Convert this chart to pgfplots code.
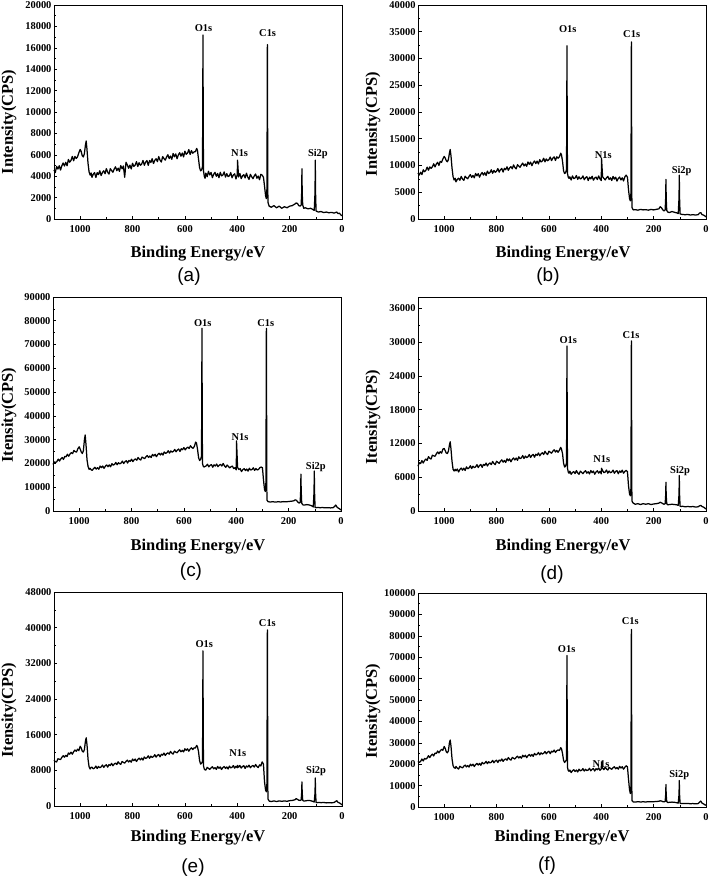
\documentclass[border=0pt]{standalone}
\usepackage{pgfplots}
\usepackage{pgfplotstable}
\pgfplotsset{compat=1.18}
\usepackage{fontspec}
\setmainfont{Liberation Serif}
\newfontfamily\arial{Liberation Sans}

\pgfplotstableread{
x a b c d e f
1100 4590 8615 19580 7950 10275 21300
1095 4335 8210 20650 8565 9975 20800
1090 4920 8750 20320 8445 9862 21350
1085 4665 8300 20830 8955 10612 22425
1080 4980 9200 21830 8520 10500 21550
1075 4575 8840 21010 8960 10425 22700
1070 4980 9110 21940 9225 10912 22350
1065 5235 9695 22520 9000 11288 22900
1060 4950 9110 21700 9650 10950 23975
1055 5295 9740 22980 9355 11362 23100
1050 4980 9470 22790 9235 11100 24100
1045 5565 9740 23860 9920 11888 24725
1040 5310 10325 23040 9800 11625 23850
1035 5475 9740 23970 9715 12075 25225
1030 5850 10280 24550 10155 11625 25025
1025 5445 10595 24150 10490 12188 26175
1020 5850 10010 25500 10160 12562 25300
1015 5655 10775 24960 10530 12262 26300
1010 5820 10595 24770 10270 12750 26925
1005 6195 11225 26190 10990 12412 26500
1000 6500 11700 27000 11100 13400 28300
996 6300 11400 26000 10700 13000 27400
992 5900 10900 24800 10300 12300 25800
988 5800 10700 24200 10200 12100 25300
984 6100 11100 25300 10600 12600 26200
980 6900 12300 30000 11700 14500 30000
977 7300 13000 32000 12300 15300 31300
974 6500 11800 28000 11000 13800 28500
970 5200 9500 21500 8800 10500 22500
966 4400 7900 18700 7400 8800 19300
962 4100 7300 17500 7100 8300 18400
958 4300 7600 17900 7400 8700 18100
955 3890 6940 17400 7130 8700 18950
950 4190 7400 17100 7455 8346 18154
945 4336 7633 17856 6940 8515 17733
940 3885 7236 18399 7370 8948 19037
935 4333 7965 17612 7625 8406 18616
930 4151 7479 18225 7250 8877 18270
925 4509 7218 17578 7609 8596 19049
920 4057 7992 18891 7199 8766 19603
915 4356 7730 18244 7839 9200 18732
910 4504 7514 18927 7499 8657 19361
905 4232 7973 17930 7649 9052 18640
900 4710 8297 18823 8044 9260 20019
895 4378 7766 19366 7529 8717 19298
890 4197 8134 18649 7959 9300 20002
885 4705 7693 19402 7689 9096 18906
880 4523 8512 18615 7839 9566 19835
875 4371 8071 19928 8233 9023 20389
870 4669 8485 19281 7718 9419 19593
865 4878 7818 19614 8078 9627 20372
860 4516 8367 20437 8263 9308 19501
855 4754 8691 19440 7748 9929 20880
850 4452 8205 20333 8283 9537 20159
845 4990 8664 19826 8083 9331 20488
840 4689 8132 20159 8513 9989 21342
835 4957 8951 20982 7998 9785 20246
830 3900 8510 19985 8358 9618 21175
825 5300 8699 20738 8542 10012 20604
820 5071 9203 21141 8237 10296 20933
815 4740 8536 20144 8807 9866 21787
810 5038 9085 21247 8432 10185 20691
805 4676 8734 20880 8232 9831 21470
800 5214 8923 21773 8837 10527 21874
795 4912 9427 20776 8637 10171 20778
790 5031 8760 21529 8472 10529 21932
785 5359 9219 21932 8832 9987 21511
780 4907 9453 21355 9087 10458 22440
775 5265 8787 22528 8676 10739 21344
770 5023 9471 21811 8966 10347 22123
765 5142 9209 21444 8626 10743 22527
760 5470 9758 22687 9266 10312 21881
755 5018 9092 22320 8926 11008 23110
750 5316 9551 22023 9251 10654 22314
745 5464 9785 22776 8736 10823 21893
740 5013 9388 23319 9166 11256 23197
735 5461 10117 22532 9421 10714 22776
730 5279 9631 23145 9046 11185 22430
725 5637 9370 22498 9405 10904 23209
720 5185 10144 23811 8995 11074 23763
715 5484 9882 23164 9635 11508 22892
710 5632 9666 23847 9295 10965 23521
705 5360 10125 22850 9445 11360 22800
700 5838 10449 23743 9840 11568 24179
695 5506 9918 24286 9325 11025 23458
690 5325 10286 23569 9755 11608 24162
685 5833 9845 24322 9485 11404 23066
680 5651 10664 23535 9635 11874 23995
675 5499 10223 24848 10029 11331 24549
670 5797 10637 24201 9514 11727 23753
665 6006 9970 24534 9874 11935 24532
660 5644 10519 25357 10059 11616 23661
655 5882 10843 24360 9544 12237 25040
650 5580 10357 25253 10079 11845 24319
645 6118 10816 24746 9879 11639 24648
640 5817 10284 25079 10309 12297 25502
635 6085 11103 25902 9794 12093 24406
630 5633 10662 24905 10154 11926 25335
625 5991 10851 25658 10338 12320 24764
620 6199 11355 26061 10033 12604 25093
615 5868 10688 25064 10603 12174 25947
610 6166 11237 26167 10228 12493 24851
605 5804 10886 25800 10028 12139 25630
600 6342 11075 26693 10633 12835 26034
595 6040 11579 25696 10433 12479 24938
590 6159 10912 26449 10268 12837 26092
585 6487 11371 26852 10628 12295 25671
580 6035 11605 26275 10883 12766 26600
575 6393 10939 27448 10472 13047 25504
570 6151 11623 26731 10762 12655 26283
565 6270 11361 26364 10422 13051 26687
560 6300 11600 27200 10800 13000 26400
555 6600 12300 29000 11300 13600 27700
552 6400 12000 28600 11000 13300 27300
548 5600 10800 26000 10200 12200 25000
544 4800 9000 22500 8500 10200 21800
540 4500 8500 21200 7800 9400 20800
536 4600 8700 21800 8000 9600 21500
533 4900 9200 23000 8500 10000 22000
532 9000 16000 40000 15000 18000 36000
531 17200 32400 76900 29300 34800 70800
530 9000 16000 38000 15000 17000 35000
529 4500 8500 20000 7600 9000 18500
526 4000 7800 18800 6900 8300 17000
523 3800 7600 18500 6700 8100 16700
520 4290 7880 18720 7080 8062 17250
515 3953 7291 18950 6525 8676 16090
510 4456 8051 19670 6844 8428 16955
505 4119 7552 18570 6989 8217 17445
500 4352 7682 19220 6643 8568 16585
495 3865 8128 19520 7173 8808 17300
490 4188 7403 18420 6757 8334 16365
485 4361 7894 19420 6517 8610 17680
480 3994 7484 18950 7081 8212 16895
475 4257 7615 19740 6841 8864 17160
470 3860 8060 18640 6635 8465 17950
465 4363 7336 19290 6955 8779 16790
460 4026 7736 19590 7169 8193 17655
455 4109 7912 18910 6719 8620 17020
450 4402 7187 19980 6968 8858 17285
445 3915 7813 18997 6588 8422 18075
440 4238 7493 18364 7187 8774 16915
435 3961 7984 19341 6807 8300 17630
430 4044 7259 18708 7091 8952 17970
425 4337 7660 18145 6536 8554 16810
420 3850 7835 18632 6925 8680 17900
415 4113 7381 18909 7140 9069 17415
410 4226 8051 17856 6724 8483 18280
405 3739 7507 18203 7044 8910 17120
400 4152 7187 17290 6593 8586 17835
399 5500 11400 29500 7600 9100 21000
395 3935 7903 18337 7193 8712 18175
390 4258 7583 17424 6812 9102 17465
385 3771 7309 17841 6922 8516 18630
380 4034 7709 16578 7276 8867 17770
375 4147 7975 17390 6721 9031 17285
370 3840 7385 17830 7110 8445 18525
365 4283 7696 17010 6800 8984 18040
360 3916 7196 17660 6909 8736 17630
355 3699 7957 16770 7264 9162 18345
350 4172 7457 17980 6708 8576 18835
345 3955 7813 17230 7028 8928 17900
340 3768 7088 17460 7172 9092 18465
335 4031 7579 18180 6617 8730 17680
330 4204 7844 17080 7111 9307 18995
325 3807 7300 17870 6871 8871 18210
320 4010 7700 17260 7260 8622 18850
315 3673 7111 17490 6705 9236 17690
310 4176 7871 18210 7024 8988 18555
305 4100 8200 18500 7200 9900 19300
300 3900 7800 18200 7000 9400 18800
296 3100 5500 13000 4500 5500 13000
292 2200 3800 9000 3000 3600 8000
289 1900 3400 8200 2700 3200 6300
287 2400 4200 10000 3400 4000 8000
286 8000 16000 38000 15000 19000 40000
285 16300 33100 76800 30200 39500 83000
284 8000 16000 38000 15000 19000 40000
283 1600 2200 4600 1800 1600 3000
281 1400 2000 4300 1600 1400 2800
278 1200 1700 3900 1400 1100 2400
270 1100 1750 3800 1200 1000 2300
260 1250 1650 3900 1300 1150 2500
250 1050 1800 3750 1150 1000 2350
240 1200 1700 3900 1300 1150 2450
230 1000 1750 3800 1200 1050 2350
220 1150 1650 3950 1300 1150 2500
210 1050 1800 3850 1150 1050 2400
200 1200 1700 4000 1250 1200 2500
190 1250 1800 4100 1300 1250 2550
180 1400 1900 4300 1400 1400 2700
175 1500 2300 4700 1550 1650 2900
170 1450 2100 4500 1450 1500 2800
165 1250 1700 3800 1300 1300 2500
160 1200 1500 3300 1200 1250 2400
156 1300 1700 3600 1300 1350 2600
154 2500 4000 8500 2800 3000 5800
153 4700 7400 15500 5100 5400 10500
152 2500 4000 8500 2800 3000 5800
150 1300 1600 3300 1300 1300 2500
146 1000 1300 2600 1100 1100 2100
140 1050 1200 2500 1150 1150 2200
130 950 1400 2700 1200 1250 2300
120 1000 1250 2500 1150 1200 2200
112 900 1150 2200 1100 1050 2000
106 800 1000 1700 1000 900 1800
103 2500 4000 8000 3000 3000 6000
102 5500 8200 16800 6300 6300 12400
101 2500 4000 8000 3000 3000 6000
99 750 950 1500 850 800 1700
95 700 900 1400 800 750 1600
90 650 850 1500 850 800 1700
80 700 800 1400 750 750 1600
70 600 850 1450 800 800 1650
60 650 750 1350 750 700 1550
50 580 800 1400 800 750 1600
40 620 750 1300 700 700 1500
30 550 800 1400 750 800 1600
25 600 1100 1900 900 1000 2200
20 650 1200 2500 1000 1200 2800
15 500 800 1600 800 800 1800
10 550 750 1200 700 700 1500
5 400 600 900 550 500 1100
0 300 400 400 350 250 800
}\xps

\newcommand\pk{\fontsize{10.5}{11}\selectfont\bfseries}
\newcommand\lab{\fontsize{16.5}{18}\selectfont\bfseries}
\newcommand\sub{\arial\fontsize{19}{20}\selectfont}

\pgfplotsset{
  xpsax/.style={
    width=288bp, height=214bp, scale only axis, anchor=south west,
    x dir=reverse, xmin=0, xmax=1100, ymin=0,
    xtick={0,200,...,1000}, minor x tick num=1, minor y tick num=1,
    xtick pos=bottom, ytick pos=left, tick align=inside,
    major tick length=3.5bp, minor tick length=2bp,
    scaled ticks=false,
    /pgf/number format/fixed,
    /pgf/number format/assume math mode=true,
    /pgf/number format/1000 sep={},
    ticklabel style={font=\pk},
    xticklabel style={yshift=-3bp},
    yticklabel style={xshift=1bp},
    axis line style={line width=0.8pt},
    every tick/.style={black, line width=0.6pt},
    clip=false,
  },
  spec/.style={black, line width=1.25pt, no marks, line join=round},
}
\tikzset{pl/.style={font=\pk, anchor=base, inner sep=0pt}}

\begin{document}
\begin{tikzpicture}
\path[use as bounding box] (0,0) rectangle (710bp,-877bp);

% (a)
\begin{axis}[xpsax, at={(54bp,-219bp)}, ymax=20000, ytick={0,2000,...,20000}]
\addplot[spec] table[x=x,y=a]{\xps};
\node[pl] at (axis cs:529,17480) {O1s};
\node[pl] at (axis cs:284,17020) {C1s};
\node[pl] at (axis cs:391,5800) {N1s};
\node[pl] at (axis cs:92,5800) {Si2p};
\end{axis}

% (b)
\begin{axis}[xpsax, at={(418bp,-219bp)}, ymax=40000, ytick={0,5000,...,40000}]
\addplot[spec] table[x=x,y=b]{\xps};
\node[pl] at (axis cs:528,34800) {O1s};
\node[pl] at (axis cs:284,34000) {C1s};
\node[pl] at (axis cs:392,11400) {N1s};
\node[pl] at (axis cs:93,8560) {Si2p};
\end{axis}

% (c)
\begin{axis}[xpsax, at={(53bp,-511bp)}, ymax=90000, ytick={0,10000,...,90000}]
\addplot[spec] table[x=x,y=c]{\xps};
\node[pl] at (axis cs:528,77400) {O1s};
\node[pl] at (axis cs:287,77400) {C1s};
\node[pl] at (axis cs:386,29800) {N1s};
\node[pl] at (axis cs:96,17600) {Si2p};
\end{axis}

% (d)
\begin{axis}[xpsax, at={(418bp,-511bp)}, ymax=38000, ytick={0,6000,...,36000}]
\addplot[spec] table[x=x,y=d]{\xps};
\node[pl] at (axis cs:526,29800) {O1s};
\node[pl] at (axis cs:286,30700) {C1s};
\node[pl] at (axis cs:398,8650) {N1s};
\node[pl] at (axis cs:99,6700) {Si2p};
\end{axis}

% (e)
\begin{axis}[xpsax, at={(54bp,-806bp)}, ymax=48000, ytick={0,8000,...,48000}]
\addplot[spec] table[x=x,y=e]{\xps};
\node[pl] at (axis cs:526,35500) {O1s};
\node[pl] at (axis cs:285,40200) {C1s};
\node[pl] at (axis cs:398,11100) {N1s};
\node[pl] at (axis cs:99,7330) {Si2p};
\end{axis}

% (f)
\begin{axis}[xpsax, at={(418bp,-807bp)}, ymax=100000, ytick={0,10000,...,100000}]
\addplot[spec] table[x=x,y=f]{\xps};
\node[pl] at (axis cs:532,72400) {O1s};
\node[pl] at (axis cs:289,85400) {C1s};
\node[pl] at (axis cs:401,18500) {N1s};
\node[pl] at (axis cs:102,13800) {Si2p};
\end{axis}

% axis titles
\node[font=\lab, anchor=base] at (198bp,-257bp) {Binding Energy/eV};
\node[font=\lab, anchor=base] at (563bp,-257bp) {Binding Energy/eV};
\node[font=\lab, anchor=base] at (198bp,-550bp) {Binding Energy/eV};
\node[font=\lab, anchor=base] at (563bp,-550bp) {Binding Energy/eV};
\node[font=\lab, anchor=base] at (198bp,-841bp) {Binding Energy/eV};
\node[font=\lab, anchor=base] at (562bp,-841bp) {Binding Energy/eV};

\node[font=\lab, rotate=90] at (9bp,-122bp) {Intensity(CPS)};
\node[font=\lab, rotate=90] at (373bp,-124bp) {Intensity(CPS)};
\node[font=\lab, rotate=90] at (9bp,-415bp) {Itensity(CPS)};
\node[font=\lab, rotate=90] at (373bp,-417bp) {Itensity(CPS)};
\node[font=\lab, rotate=90] at (9bp,-710bp) {Itensity(CPS)};
\node[font=\lab, rotate=90] at (373bp,-711bp) {Itensity(CPS)};

\node[font=\sub, anchor=base] at (189bp,-281bp) {(a)};
\node[font=\sub, anchor=base] at (548bp,-281bp) {(b)};
\node[font=\sub, anchor=base] at (191bp,-576bp) {(c)};
\node[font=\sub, anchor=base] at (552bp,-579bp) {(d)};
\node[font=\sub, anchor=base] at (193bp,-872bp) {(e)};
\node[font=\sub, anchor=base] at (547bp,-870bp) {(f)};
\end{tikzpicture}
\end{document}
